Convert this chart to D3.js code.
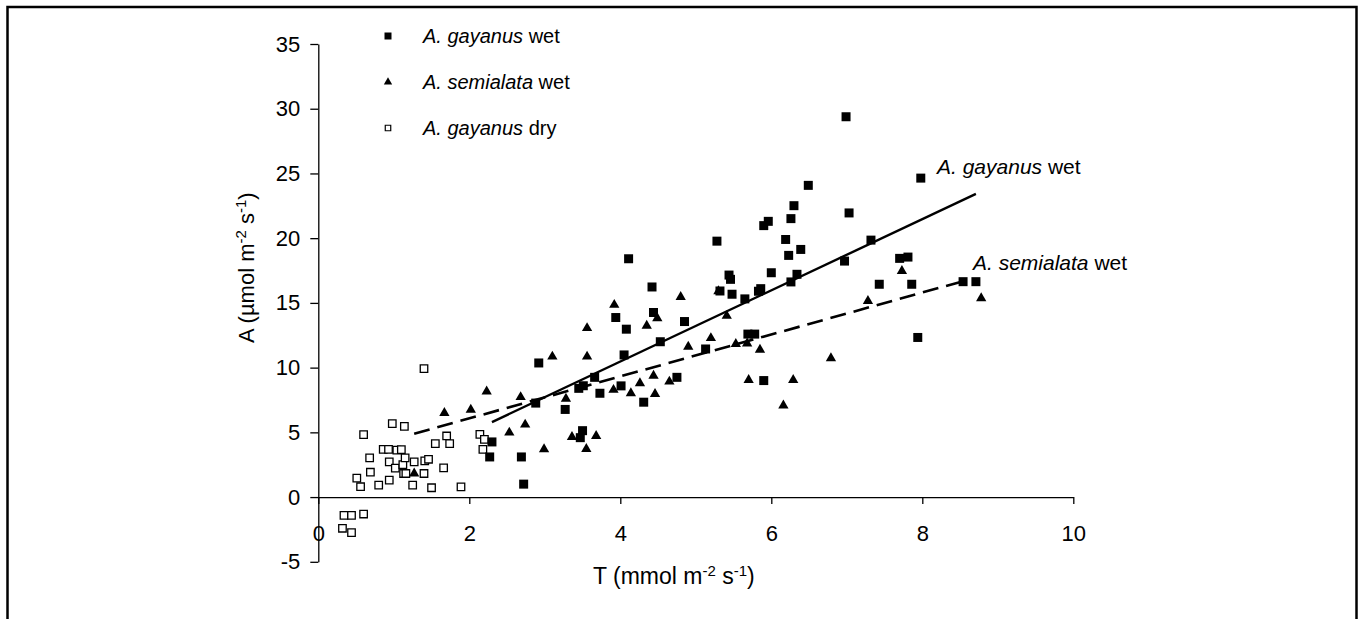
<!DOCTYPE html>
<html><head><meta charset="utf-8">
<script src="https://cdn.jsdelivr.net/npm/d3@7"></script>
<style>
html,body{margin:0;padding:0;background:#fff}
svg{display:block}
text{font-family:"Liberation Sans",Arial,Helvetica,sans-serif;fill:#000}
</style>
</head><body>
<svg id="c" width="1360" height="619"></svg>
<script>
// ---- data (T, A) ----
const gayanusWet = [
 [2.30,4.26],[2.27,3.10],[2.69,3.10],[2.72,1.00],[2.88,7.26],[2.92,10.36],[3.27,6.77],[3.45,8.40],[3.51,8.60],
 [3.50,5.13],[3.47,4.59],[3.66,9.25],[3.73,8.02],[3.94,13.87],[4.01,8.59],[4.05,10.98],[4.08,12.97],[4.11,18.41],
 [4.31,7.33],[4.42,16.23],[4.44,14.26],[4.53,12.00],[4.75,9.25],[4.85,13.56],[5.13,11.44],[5.28,19.77],[5.32,15.92],
 [5.44,17.15],[5.46,16.82],[5.48,15.67],[5.65,15.31],[5.69,12.59],[5.78,12.59],[5.83,15.90],[5.86,16.10],[5.90,9.00],
 [5.90,20.97],[5.96,21.30],[6.00,17.33],[6.19,19.90],[6.23,18.67],[6.26,21.51],[6.26,16.62],[6.30,22.51],[6.34,17.21],
 [6.39,19.13],[6.49,24.08],[6.97,18.23],[6.99,29.38],[7.03,21.95],[7.32,19.85],[7.43,16.44],[7.70,18.44],[7.81,18.54],
 [7.86,16.44],[7.94,12.33],[7.98,24.64],[8.54,16.64],[8.71,16.64]
];
const semialataWet = [
 [1.27,1.82],[1.67,6.50],[2.02,6.74],[2.23,8.15],[2.53,4.98],[2.68,7.72],[2.74,5.60],[2.99,3.70],[3.10,10.85],
 [3.28,7.59],[3.36,4.64],[3.55,3.72],[3.56,10.85],[3.56,13.05],[3.68,4.72],[3.91,8.28],[3.92,14.85],[4.14,8.02],
 [4.26,8.79],[4.35,13.23],[4.44,9.38],[4.46,7.97],[4.49,13.82],[4.65,8.92],[4.80,15.46],[4.90,11.62],[5.20,12.28],
 [5.30,15.90],[5.41,14.00],[5.53,11.82],[5.68,11.87],[5.70,9.05],[5.85,11.38],[6.16,7.08],[6.29,9.05],[6.79,10.72],
 [7.28,15.15],[7.73,17.46],[8.78,15.36]
];
const gayanusDry = [
 [0.60,4.82],[0.98,5.67],[1.14,5.46],[0.68,3.03],[0.51,1.46],[0.56,0.80],[0.69,1.92],[0.80,0.92],[0.86,3.69],
 [0.93,3.69],[0.94,2.72],[0.94,1.31],[1.04,3.62],[1.10,3.67],[1.02,2.23],[1.12,2.51],[1.15,3.03],[1.13,1.82],
 [1.16,1.82],[1.27,2.72],[1.25,0.92],[1.41,2.80],[1.46,2.92],[1.40,1.82],[1.50,0.72],[1.55,4.13],[1.70,4.72],
 [1.74,4.13],[1.66,2.25],[1.89,0.79],[2.14,4.85],[2.20,4.46],[2.18,3.69],[1.40,9.92],
 [0.34,-1.41],[0.44,-1.41],[0.60,-1.31],[0.32,-2.41],[0.44,-2.74]
];
const xTicks = [0,2,4,6,8,10];
const yTicks = [-5,0,5,10,15,20,25,30,35];
// regression lines: [slope, intercept, T start, T end]
const fitGayanusWet = [2.75,-0.53,2.30,8.71];
const fitSemialataWet = [1.62,2.84,1.27,8.54];
const seriesNames = [["A. gayanus"," wet"],["A. semialata"," wet"],["A. gayanus"," dry"]];

// ---- drawing ----
const svg = d3.select("#c");
svg.append("rect").attr("x",7.5).attr("y",7).attr("width",1349).attr("height",700)
  .attr("fill","none").attr("stroke","#000").attr("stroke-width",2.5);

const x = d3.scaleLinear().domain([0,10]).range([318.3,1073.3]);
const y = d3.scaleLinear().domain([-5,35]).range([561.8,44]);

// y axis
const yAx = svg.append("g").attr("transform",`translate(${x(0)},0)`)
  .call(d3.axisLeft(y).tickValues(yTicks).tickFormat(d=>String(d)).tickSize(8).tickSizeOuter(0).tickPadding(10));
// x axis at A=0
const xAx = svg.append("g").attr("transform",`translate(0,${y(0)})`)
  .call(d3.axisBottom(x).tickValues(xTicks).tickFormat(d=>String(d)).tickSize(7).tickSizeOuter(0).tickPadding(21));
[yAx,xAx].forEach(g=>{
  g.selectAll("path.domain").attr("stroke","#000").attr("stroke-width",1.3);
  g.selectAll(".tick line").attr("stroke","#000").attr("stroke-width",1.3);
  g.selectAll(".tick text").attr("font-size",22).attr("font-family","Liberation Sans, Arial, sans-serif").attr("fill","#000");
});

// axis titles
function titleWithSup(t, parts){
  parts.forEach(p=>{
    const ts = t.append("tspan").text(p[0]);
    if(p[1]) ts.attr("font-size",15).attr("baseline-shift","super");
  });
}
const xt = svg.append("text").attr("x",593).attr("y",584).attr("font-size",23);
titleWithSup(xt,[["T (mmol m"],["-2",1],[" s"],["-1",1],[")"]]);
const yt = svg.append("text").attr("transform","translate(254,343) rotate(-90)").attr("font-size",22);
titleWithSup(yt,[["A (\u00b5mol m"],["-2",1],[" s"],["-1",1],[")"]]);

// fit lines
const line = d3.line().x(d=>x(d[0])).y(d=>y(d[1]));
function fitPts(f){ return [[f[2], f[0]*f[2]+f[1]],[f[3], f[0]*f[3]+f[1]]]; }
svg.append("path").datum(fitPts(fitGayanusWet)).attr("d",line)
  .attr("fill","none").attr("stroke","#000").attr("stroke-width",2.4);
svg.append("path").datum(fitPts(fitSemialataWet)).attr("d",line)
  .attr("fill","none").attr("stroke","#000").attr("stroke-width",2.6).attr("stroke-dasharray","16,8");

// points
const sq = d3.symbol().type(d3.symbolSquare).size(81);
const tri = d3.symbol().type(d3.symbolTriangle).size(46);
const osq = d3.symbol().type(d3.symbolSquare).size(56);
svg.append("g").selectAll("path").data(gayanusDry).join("path")
  .attr("d",osq).attr("transform",d=>`translate(${x(d[0])},${y(d[1])})`)
  .attr("fill","#fff").attr("stroke","#000").attr("stroke-width",1.3);
svg.append("g").selectAll("path").data(semialataWet).join("path")
  .attr("d",tri).attr("transform",d=>`translate(${x(d[0])},${y(d[1])})`).attr("fill","#000");
svg.append("g").selectAll("path").data(gayanusWet).join("path")
  .attr("d",sq).attr("transform",d=>`translate(${x(d[0])},${y(d[1])})`).attr("fill","#000");

// legend
const legSyms = [
  {d:d3.symbol().type(d3.symbolSquare).size(49)(), fill:"#000", stroke:"none"},
  {d:d3.symbol().type(d3.symbolTriangle).size(30)(), fill:"#000", stroke:"none"},
  {d:d3.symbol().type(d3.symbolSquare).size(30)(), fill:"#fff", stroke:"#000"}
];
const legRowY = [36,82,128];
seriesNames.forEach((nm,i)=>{
  svg.append("path").attr("d",legSyms[i].d).attr("transform",`translate(388,${legRowY[i]})`)
    .attr("fill",legSyms[i].fill).attr("stroke",legSyms[i].stroke).attr("stroke-width",1.2);
  const t = svg.append("text").attr("x",423).attr("y",legRowY[i]+7).attr("font-size",20);
  t.append("tspan").attr("font-style","italic").text(nm[0]);
  t.append("tspan").text(nm[1]);
});

// line labels
function lineLabel(nm, lx, ly){
  const t = svg.append("text").attr("x",lx).attr("y",ly).attr("font-size",21);
  t.append("tspan").attr("font-style","italic").text(nm[0]);
  t.append("tspan").text(nm[1]);
}
lineLabel(seriesNames[0], 937, 174);
lineLabel(seriesNames[1], 973, 270);
</script>
</body></html>
